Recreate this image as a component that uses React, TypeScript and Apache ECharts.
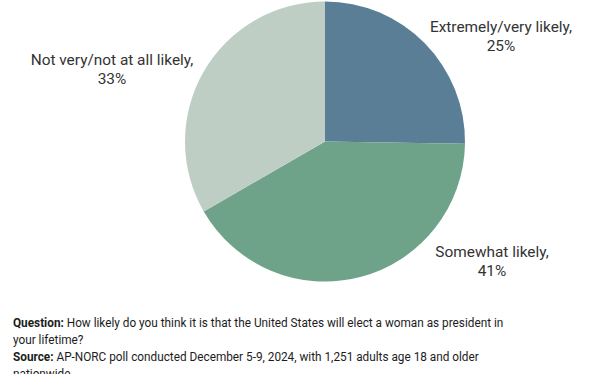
import React, { useEffect, useRef } from "react";
import * as echarts from "echarts";

const categories = ["Extremely/very likely", "Somewhat likely", "Not very/not at all likely"];
const values = [25, 41, 33];
const colors = ["#597e96", "#6ea389", "#bfcec4"];
const labelPos: [number, number][] = [
  [501, 36],
  [492, 261],
  [112, 69],
];

export default function App() {
  const ref = useRef<HTMLDivElement>(null);
  useEffect(() => {
    if (!ref.current) return;
    const chart = echarts.init(ref.current, null, { renderer: "svg" });
    chart.setOption({
      animation: false,
      backgroundColor: "#ffffff",
      series: [
        {
          type: "pie",
          center: [325, 141.5],
          radius: 140,
          startAngle: 90,
          clockwise: true,
          data: categories.map((name, i) => ({
            name,
            value: values[i],
            itemStyle: { color: colors[i] },
          })),
          itemStyle: { borderWidth: 0 },
          label: {
            show: true,
            position: "outside",
            formatter: "{b},\n{c}%",
            fontFamily: "Roboto",
            fontSize: 15.4,
            lineHeight: 19,
            color: "#333333",
            align: "center",
            overflow: "none",
            width: 300,
          },
          labelLine: { show: false },
          labelLayout: (params: any) => ({
            x: labelPos[params.dataIndex][0],
            y: labelPos[params.dataIndex][1],
            align: "center",
            verticalAlign: "middle",
          }),
          emphasis: { disabled: true },
        },
      ],
      graphic: [
        {
          type: "text",
          x: 13,
          y: 314,
          scaleX: 0.88,
          style: {
            text:
              "{b|Question:} How likely do you think it is that the United States will elect a woman as president in\nyour lifetime?\n{b|Source:} AP-NORC poll conducted December 5-9, 2024, with 1,251 adults age 18 and older\nnationwide",
            fontFamily: "Roboto",
            fontSize: 13.4,
            lineHeight: 17,
            fill: "#1c1c1c",
            rich: {
              b: {
                fontFamily: "Roboto",
                fontWeight: "bold",
                fontSize: 13.4,
                lineHeight: 17,
                fill: "#1c1c1c",
              },
            },
          },
        },
      ],
    });
    return () => chart.dispose();
  }, []);
  return <div ref={ref} style={{ width: 612, height: 374, position: "absolute", left: 0, top: 0 }} />;
}
